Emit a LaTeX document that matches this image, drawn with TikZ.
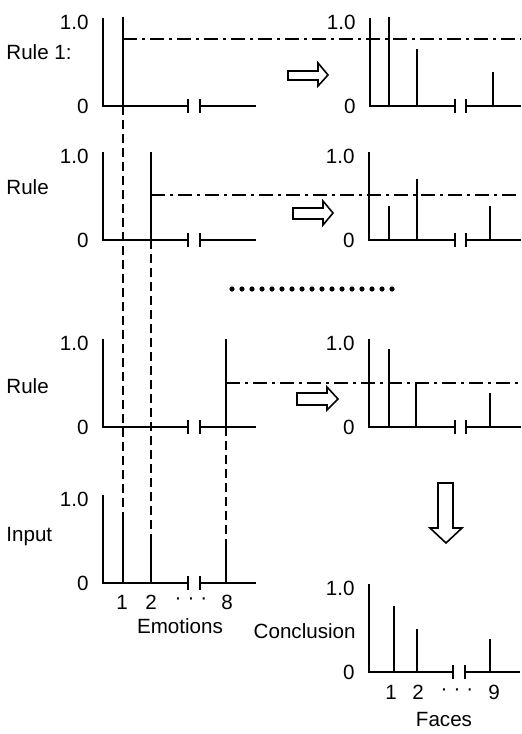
\documentclass[tikz,border=0pt]{standalone}
\usepackage{fontspec}
\setmainfont{Liberation Sans}
% axes of one membership plot: name, x of origin, y of baseline, break ticks, end of axis
\newcommand\fzaxes[6]{%
  \coordinate (#1-o) at (#2,#3);
  \coordinate (#1-top) at (#2,#3-88);
  \draw[axis] (#1-top) -- (#1-o) -- (#4,#3);
  \draw[axis] (#4,#3-7) -- (#4,#3+7);
  \draw[axis] (#5,#3-7) -- (#5,#3+7);
  \draw[axis] (#5,#3) -- (#6,#3);
  \node[lbl, anchor=east] (#1-one) at (#2-14,#3-84) {1.0};
  \node[lbl, anchor=east] (#1-zero) at (#2-14,#3) {0};
}
% one bar: name, x, baseline, top
\newcommand\fzbar[4]{%
  \coordinate (#1-b) at (#2,#3);
  \coordinate (#1-t) at (#2,#4);
  \draw[bar] (#1-b) -- (#1-t);
}
\begin{document}
\begin{tikzpicture}[x=0.5pt,y=-0.5pt,
  axis/.style={line width=1.35pt, line join=miter},
  bar/.style={line width=1.35pt},
  guide/.style={line width=1.2pt, dash pattern=on 4.5pt off 2.5pt},
  level/.style={line width=1.4pt, dash pattern=on 7pt off 2.5pt on 1.5pt off 2.5pt},
  blockarrow/.style={draw, fill=white, line width=0.8pt, line join=miter},
  lbl/.style={font=\fontsize{10.3}{12}\selectfont, inner sep=0pt},
]
\useasboundingbox (0,0) rectangle (521,734);

% ---------- left column: rules and input ----------
\fzaxes{L1}{103}{106}{188}{200}{256}
\fzaxes{L2}{103}{240}{188}{200}{256}
\fzaxes{L3}{103}{427}{188}{200}{256}
\fzaxes{IN}{103}{583}{188}{200}{256}

\fzbar{L1a}{123}{106}{17}
\fzbar{L2a}{151}{240}{152}
\fzbar{L3a}{226}{427}{339}
\fzbar{INa}{123}{583}{517}
\fzbar{INb}{151}{583}{537}
\fzbar{INc}{226}{583}{540}

% links from each rule down to the matching input value
\draw[guide] (L1a-b) -- (INa-t);
\draw[guide] (L2a-b) -- (INb-t);
\draw[guide] (L3a-b) -- (INc-t);

% firing levels carried across to the right column
\coordinate (E1) at (521,39);
\coordinate (E2) at (521,195);
\coordinate (E3) at (521,383);
\draw[level] (123,39) -- (E1);
\draw[level] (151,195) -- (E2);
\draw[level] (226,383) -- (E3);

\node[lbl, anchor=west] (r1) at (6,52) {Rule 1:};
\node[lbl, anchor=west] (r2) at (6,187) {Rule};
\node[lbl, anchor=west] (r3) at (6,386) {Rule};
\node[lbl, anchor=west] (inp) at (6,537) {Input};

\node[lbl] (e1) at (122,602) {1};
\node[lbl] (e2) at (151,602) {2};
\node[lbl] (edots) at (191,601) {·\hspace{3pt}·\hspace{3pt}·};
\node[lbl] (e8) at (227,602) {8};
\node[lbl] (emo) at (180,626) {Emotions};

% ---------- right column: consequents and conclusion ----------
\fzaxes{R1}{370}{106}{455}{466}{521}
\fzaxes{R2}{369}{240}{455}{466}{521}
\fzaxes{R3}{369}{427}{455}{466}{521}
\fzaxes{C}{369}{672}{453}{465}{520}

\fzbar{R1a}{389}{106}{17}
\fzbar{R1b}{417}{106}{49}
\fzbar{R1c}{493}{106}{72}
\fzbar{R2a}{389}{240}{206}
\fzbar{R2b}{417}{240}{179}
\fzbar{R2c}{490}{240}{206}
\fzbar{R3a}{389}{427}{349}
\fzbar{R3b}{416}{427}{383}
\fzbar{R3c}{490}{427}{393}
\fzbar{Ca}{394}{672}{606}
\fzbar{Cb}{417}{672}{629}
\fzbar{Cc}{490}{672}{639}

\node[lbl, anchor=east] (conc) at (356,631) {Conclusion};
\node[lbl] (f1) at (391,692) {1};
\node[lbl] (f2) at (418,692) {2};
\node[lbl] (fdots) at (457,692) {·\hspace{3pt}·\hspace{3pt}·};
\node[lbl] (f9) at (494,692) {9};
\node[lbl] (faces) at (444,720) {Faces};

% ---------- hollow block arrows ----------
\draw[blockarrow] (288,71) -- (318,71) -- (318,63) -- (328,75) -- (318,86)
  -- (318,80) -- (288,80) -- cycle;
\draw[blockarrow] (293,208) -- (323,208) -- (323,201) -- (333,213) -- (323,225)
  -- (323,219) -- (293,219) -- cycle;
\draw[blockarrow] (297,393) -- (327,393) -- (327,387) -- (338,399) -- (327,410)
  -- (327,405) -- (297,405) -- cycle;
\draw[blockarrow] (438,483) -- (453,483) -- (453,528) -- (462,528) -- (446,543)
  -- (430,528) -- (438,528) -- cycle;

% row of dots between the rules
\foreach \k in {0,...,16}
  \fill (232+10*\k,289) circle[radius=2.6];
\end{tikzpicture}
\end{document}
